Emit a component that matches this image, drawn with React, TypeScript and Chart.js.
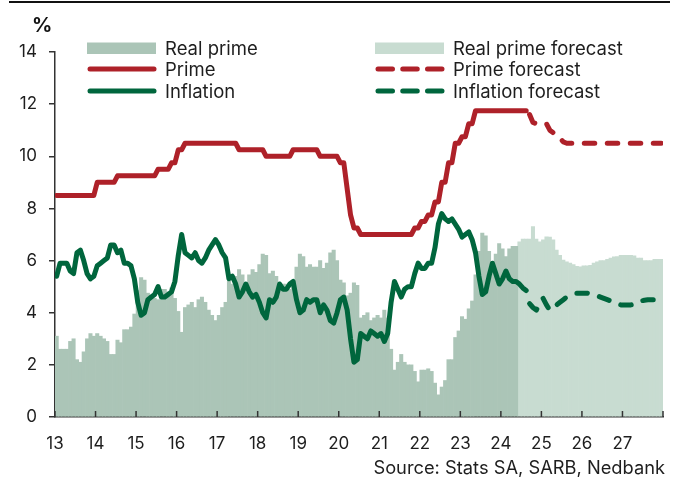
import React, { useEffect, useRef } from 'react';
import { Chart, registerables } from 'chart.js';

Chart.register(...registerables);

// ---------- data (monthly, Jan 2013 = index 0) ----------
const yearLabels = ['13', '14', '15', '16', '17', '18', '19', '20', '21', '22', '23', '24', '25', '26', '27'];
const yTickStep = 2;

// Prime rate, actual (Jan 2013 - Aug 2024)
const prime = [
  8.5, 8.5, 8.5, 8.5, 8.5, 8.5, 8.5, 8.5, 8.5, 8.5, 8.5, 8.5,
  9, 9, 9, 9, 9, 9, 9.25, 9.25, 9.25, 9.25, 9.25, 9.25,
  9.25, 9.25, 9.25, 9.25, 9.25, 9.25, 9.5, 9.5, 9.5, 9.5, 9.75, 9.75,
  10.25, 10.25, 10.5, 10.5, 10.5, 10.5, 10.5, 10.5, 10.5, 10.5, 10.5, 10.5,
  10.5, 10.5, 10.5, 10.5, 10.5, 10.5, 10.25, 10.25, 10.25, 10.25, 10.25, 10.25,
  10.25, 10.25, 10, 10, 10, 10, 10, 10, 10, 10, 10.25, 10.25,
  10.25, 10.25, 10.25, 10.25, 10.25, 10.25, 10, 10, 10, 10, 10, 10,
  9.75, 9.75, 8.75, 7.75, 7.25, 7.25, 7, 7, 7, 7, 7, 7,
  7, 7, 7, 7, 7, 7, 7, 7, 7, 7, 7.25, 7.25,
  7.5, 7.5, 7.75, 7.75, 8.25, 8.25, 9, 9, 9.75, 9.75, 10.5, 10.5,
  10.75, 10.75, 11.25, 11.25, 11.75, 11.75, 11.75, 11.75, 11.75, 11.75, 11.75, 11.75,
  11.75, 11.75, 11.75, 11.75, 11.75, 11.75, 11.75, 11.75,
];
const primeForecastStart = 140;
const primeForecast = [
  11.6, 11.3, 11.25, 11.25, 11.25, 11.25, 11.0, 10.9, 10.75, 10.7, 10.55, 10.5,
  10.5, 10.5, 10.5, 10.5, 10.5, 10.5, 10.5, 10.5, 10.5, 10.5, 10.5, 10.5,
  10.5, 10.5, 10.5, 10.5, 10.5, 10.5, 10.5, 10.5, 10.5, 10.5, 10.5, 10.5,
  10.5, 10.5, 10.5, 10.5,
];

// CPI inflation, actual
const inflation = [
  5.4, 5.9, 5.9, 5.9, 5.6, 5.5, 6.3, 6.4, 6.0, 5.5, 5.3, 5.4,
  5.8, 5.9, 6.0, 6.1, 6.6, 6.6, 6.3, 6.4, 5.9, 5.9, 5.8, 5.3,
  4.4, 3.9, 4.0, 4.5, 4.6, 4.7, 5.0, 4.6, 4.6, 4.7, 4.8, 5.2,
  6.2, 7.0, 6.3, 6.2, 6.1, 6.3, 6.0, 5.9, 6.1, 6.4, 6.6, 6.8,
  6.6, 6.3, 6.1, 5.3, 5.4, 5.1, 4.6, 4.8, 5.1, 4.8, 4.6, 4.7,
  4.4, 4.0, 3.8, 4.5, 4.4, 4.6, 5.1, 4.9, 4.9, 5.1, 5.2, 4.5,
  4.0, 4.1, 4.5, 4.4, 4.5, 4.5, 4.0, 4.3, 4.1, 3.7, 3.6, 4.0,
  4.5, 4.6, 4.1, 3.0, 2.1, 2.2, 3.2, 3.1, 3.0, 3.3, 3.2, 3.1,
  3.2, 2.9, 3.2, 4.4, 5.2, 4.9, 4.6, 4.9, 5.0, 5.0, 5.5, 5.9,
  5.7, 5.7, 5.9, 5.9, 6.5, 7.4, 7.8, 7.6, 7.5, 7.6, 7.4, 7.2,
  6.9, 7.0, 7.1, 6.8, 6.3, 5.4, 4.7, 4.8, 5.4, 5.9, 5.5, 5.1,
  5.3, 5.6, 5.3, 5.2, 5.2, 5.1, 4.95, 4.85,
];
const inflationForecastStart = 140;
const inflationForecast = [
  4.35, 4.2, 4.1, 4.35, 4.55, 4.3, 4.1, 4.15, 4.3, 4.4, 4.5, 4.6,
  4.65, 4.7, 4.75, 4.75, 4.75, 4.75, 4.72, 4.7, 4.65, 4.6, 4.55, 4.5,
  4.45, 4.38, 4.33, 4.3, 4.3, 4.3, 4.3, 4.32, 4.4, 4.45, 4.48, 4.5,
  4.5, 4.5, 4.48, 4.48,
];

// Real prime (prime less inflation), actual (Jan 2013 - May 2024)
const realPrime = [
  3.1, 2.6, 2.6, 2.6, 2.9, 3.0, 2.2, 2.1, 2.5, 3.0, 3.2, 3.1,
  3.2, 3.1, 3.0, 2.9, 2.4, 2.4, 2.95, 2.85, 3.35, 3.35, 3.45, 3.95,
  4.85, 5.35, 5.25, 4.75, 4.65, 4.55, 4.5, 4.9, 4.9, 4.8, 4.95, 4.55,
  4.05, 3.25, 4.2, 4.3, 4.4, 4.2, 4.5, 4.6, 4.4, 4.1, 3.9, 3.7,
  3.9, 4.2, 4.4, 5.2, 5.1, 5.4, 5.65, 5.45, 5.15, 5.45, 5.65, 5.55,
  5.85, 6.25, 6.2, 5.5, 5.6, 5.4, 4.9, 5.1, 5.1, 4.9, 5.05, 5.75,
  6.25, 6.15, 5.75, 5.85, 5.75, 5.75, 6.0, 5.7, 5.9, 6.3, 6.4, 6.0,
  5.25, 5.15, 4.65, 4.75, 5.15, 5.05, 3.8, 3.9, 4.0, 3.7, 3.8, 3.9,
  3.8, 4.1, 3.8, 2.6, 1.8, 2.1, 2.4, 2.1, 2.0, 2.0, 1.75, 1.35,
  1.8, 1.8, 1.85, 1.75, 1.3, 0.85, 1.15, 1.4, 2.2, 2.2, 3.05, 3.3,
  3.85, 3.75, 4.15, 4.45, 5.45, 6.35, 7.05, 6.95, 6.35, 5.85, 6.25, 6.65,
  6.45, 6.15, 6.45, 6.55, 6.55,
];
const realPrimeForecastStart = 137;
const realPrimeForecast = [
  6.72, 6.82, 6.82, 6.82, 7.3, 6.82, 6.72, 6.8, 6.91, 6.9, 6.8,
  6.4, 6.2, 6.02, 5.95, 5.9, 5.85, 5.78, 5.76, 5.8, 5.8, 5.82, 5.9,
  5.95, 6.0, 6.0, 6.05, 6.1, 6.14, 6.15, 6.2, 6.2, 6.2, 6.2, 6.18,
  6.1, 6.1, 6.0, 6.0, 6.0, 6.05, 6.05, 6.05,
];

// ---------- styles ----------
const RED = '#ae2129';
const GREEN = '#00663d';
const BAR = '#abc5b7';
const BAR_FC = '#c8dcd1';
const AXIS = '#333333';
const TEXT = '#1e1e1e';
const FONT = 'Inter, "Noto Sans", sans-serif';

const toPoints = (arr: number[], start: number) =>
  arr.map((v, i) => ({ x: start + i + 0.5, y: v }));

const legendLeft = [
  { label: 'Real prime', kind: 'bar', color: BAR },
  { label: 'Prime', kind: 'line', color: RED },
  { label: 'Inflation', kind: 'line', color: GREEN },
];
const legendRight = [
  { label: 'Real prime forecast', kind: 'bar', color: BAR_FC },
  { label: 'Prime forecast', kind: 'dash', color: RED },
  { label: 'Inflation forecast', kind: 'dash', color: GREEN },
];

function Swatch({ kind, color }: { kind: string; color: string }) {
  if (kind === 'bar') {
    return (
      <svg width={70} height={24} style={{ display: 'block' }}>
        <rect x={0} y={6.5} width={69} height={11.5} fill={color} />
      </svg>
    );
  }
  return (
    <svg width={70} height={24} style={{ display: 'block' }}>
      <line
        x1={3} y1={12} x2={67} y2={12}
        stroke={color} strokeWidth={5} strokeLinecap="round"
        strokeDasharray={kind === 'dash' ? '14.5 10.25' : undefined}
      />
    </svg>
  );
}

function LegendColumn({ items, left, swatchW }: { items: any[]; left: number; swatchW: number }) {
  return (
    <>
      {items.map((it, i) => (
        <div
          key={it.label}
          style={{
            position: 'absolute', left, top: 36 + i * 21.3, height: 24,
            display: 'flex', alignItems: 'center',
          }}
        >
          <div style={{ width: swatchW }}>
            <Swatch kind={it.kind} color={it.color} />
          </div>
          <span style={{ font: `18.5px ${FONT}`, color: TEXT, lineHeight: '24px', whiteSpace: 'nowrap' }}>
            {it.label}
          </span>
        </div>
      ))}
    </>
  );
}

export default function App() {
  const ref = useRef<HTMLCanvasElement>(null);

  useEffect(() => {
    if (!ref.current) return;
    const xTickMarks = {
      id: 'xTickMarks',
      afterDraw(chart: any) {
        const { ctx, scales, chartArea } = chart;
        const xs = scales.x;
        ctx.save();
        ctx.strokeStyle = AXIS;
        ctx.lineWidth = 1.5;
        xs.ticks.forEach((t: any) => {
          const px = xs.getPixelForValue(t.value);
          ctx.beginPath();
          ctx.moveTo(px, chartArea.bottom);
          ctx.lineTo(px, chartArea.bottom - 6);
          ctx.stroke();
        });
        ctx.restore();
      },
    };

    const lineCommon = {
      type: 'line' as const,
      borderWidth: 5,
      pointRadius: 0,
      pointHoverRadius: 0,
      tension: 0,
      fill: false,
      borderCapStyle: 'round' as const,
      borderJoinStyle: 'round' as const,
    };
    const barCommon = {
      type: 'bar' as const,
      borderWidth: 0,
      grouped: false,
      barPercentage: 1,
      categoryPercentage: 1,
    };

    const chart = new Chart(ref.current, {
      type: 'bar',
      data: {
        datasets: [
          { ...lineCommon, label: 'Prime', data: toPoints(prime, 0), borderColor: RED, order: 1 },
          {
            ...lineCommon, label: 'Prime forecast', data: toPoints(primeForecast, primeForecastStart),
            borderColor: RED, borderDash: [10.5, 12.5], order: 1,
          },
          { ...lineCommon, label: 'Inflation', data: toPoints(inflation, 0), borderColor: GREEN, order: 2 },
          {
            ...lineCommon, label: 'Inflation forecast',
            data: toPoints(inflationForecast, inflationForecastStart),
            borderColor: GREEN, borderDash: [10.5, 12.5], order: 2,
          },
          { ...barCommon, label: 'Real prime', data: toPoints(realPrime, 0), backgroundColor: BAR, order: 5 },
          {
            ...barCommon, label: 'Real prime forecast',
            data: toPoints(realPrimeForecast, realPrimeForecastStart), backgroundColor: BAR_FC, order: 5,
          },
        ] as any,
      },
      options: {
        responsive: false,
        animation: false,
        devicePixelRatio: 1,
        layout: { padding: { left: 8, right: 18, top: 52, bottom: 0 } },
        plugins: { legend: { display: false }, tooltip: { enabled: false } },
        scales: {
          x: {
            type: 'linear',
            min: 0,
            max: yearLabels.length * 12,
            offset: false,
            z: 1,
            ticks: {
              stepSize: 12,
              maxTicksLimit: 30,
              autoSkip: false,
              maxRotation: 0,
              padding: 17,
              color: TEXT,
              font: { family: FONT, size: 17 },
              callback: (v: any) => {
                const idx = Math.round(Number(v) / 12);
                return idx < yearLabels.length ? yearLabels[idx] : '';
              },
            },
            grid: { display: false, drawTicks: false },
            border: { display: true, color: AXIS, width: 1.5 },
            afterFit: (s: any) => { s.height = 60; },
          },
          y: {
            min: 0,
            max: 14,
            z: 1,
            ticks: {
              stepSize: yTickStep,
              padding: 12,
              color: TEXT,
              font: { family: FONT, size: 17 },
            },
            grid: { drawOnChartArea: false, drawTicks: true, tickLength: 6, color: AXIS, lineWidth: 1.5 },
            border: { display: true, color: AXIS, width: 1.5 },
            afterFit: (s: any) => { s.width = 47; },
          },
        },
      } as any,
      plugins: [xTickMarks],
    });
    return () => chart.destroy();
  }, []);

  return (
    <div style={{ position: 'fixed', left: 0, top: 0, width: 681, height: 477, background: '#fff', overflow: 'hidden' }}>
      <canvas ref={ref} width={681} height={477} style={{ position: 'absolute', left: 0, top: 0, width: 681, height: 477 }} />
      <div style={{ position: 'absolute', left: 9, top: 1, width: 661, height: 2, background: '#111' }} />
      <div style={{ position: 'absolute', left: 32, top: 13, font: `bold 20px ${FONT}`, color: '#111', lineHeight: '24px' }}>%</div>
      <LegendColumn items={legendLeft} left={87} swatchW={78} />
      <LegendColumn items={legendRight} left={375} swatchW={78} />
      <div style={{ position: 'absolute', right: 16, top: 455, font: `18.3px ${FONT}`, color: TEXT, lineHeight: '24px', whiteSpace: 'nowrap' }}>
        Source: Stats SA, SARB, Nedbank
      </div>
    </div>
  );
}
